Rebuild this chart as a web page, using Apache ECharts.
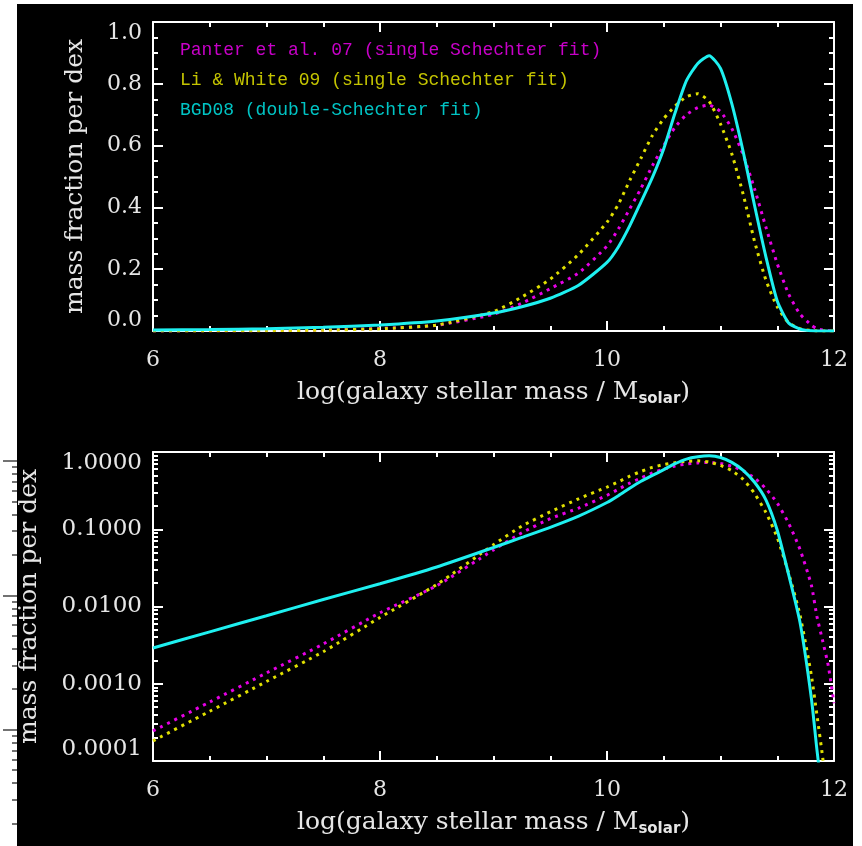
<!DOCTYPE html>
<html>
<head>
<meta charset="utf-8">
<script src="https://cdn.jsdelivr.net/npm/echarts@6/dist/echarts.min.js"></script>
<style>
html,body{margin:0;padding:0;background:#fff;}
#wrap{position:relative;width:862px;height:846px;background:#fff;overflow:hidden;}
#bg{position:absolute;left:17px;top:4px;width:836px;height:842px;background:#000;}
#chart{position:absolute;left:0;top:0;width:862px;height:846px;}
</style>
</head>
<body>
<div id="wrap"><div id="bg"></div><div id="chart"></div></div>
<script>
// ---- data ----
const xs = [6.0, 6.5, 7.0, 7.5, 8.0, 8.5, 9.0, 9.25, 9.5, 9.75, 10.0, 10.1, 10.2, 10.3, 10.4, 10.5, 10.6, 10.7, 10.8, 10.9, 11.0, 11.1, 11.2, 11.3, 11.4, 11.5, 11.6, 11.7, 11.8, 11.85, 11.9, 11.95, 12.0];
const panter = [0.000245, 0.00058, 0.00138, 0.00327, 0.0083, 0.0186, 0.054, 0.090, 0.137, 0.188, 0.275, 0.33, 0.395, 0.462, 0.535, 0.60, 0.66, 0.70, 0.723, 0.731, 0.71, 0.655, 0.57, 0.46, 0.336, 0.218, 0.12, 0.055, 0.019, 0.0074, 0.0036, 0.0017, 0.00056];
const liWhite = [0.000182, 0.00044, 0.00107, 0.0026, 0.0072, 0.0193, 0.063, 0.110, 0.168, 0.248, 0.352, 0.41, 0.487, 0.56, 0.633, 0.687, 0.728, 0.758, 0.768, 0.743, 0.67, 0.573, 0.442, 0.29, 0.165, 0.078, 0.027, 0.0078, 0.0013, 0.00039, 0.000112, 0.000025, 0.000005];
const bgd08 = [0.0029, 0.0047, 0.0076, 0.0123, 0.0197, 0.0325, 0.058, 0.0785, 0.106, 0.148, 0.222, 0.272, 0.34, 0.418, 0.497, 0.59, 0.706, 0.81, 0.866, 0.891, 0.85, 0.735, 0.58, 0.406, 0.24, 0.097, 0.026, 0.0063, 0.00066, 0.000138, 0.000032, 0.000006, 0.000001];
const seriesNames = ['Panter et al. 07 (single Schechter fit)', 'Li & White 09 (single Schechter fit)', 'BGD08 (double-Schechter fit)'];
const logMajor = [0.0001, 0.001, 0.01, 0.1, 1];
const strayMajor = [0.001, 0.01, 0.1, 1];

function minorOf(decades) {
  const out = [];
  decades.forEach(d => { for (let k = 2; k <= 9; k++) out.push(+(k * d).toPrecision(3)); });
  return out;
}
const logMinor = minorOf(logMajor.slice(0, -1));
const strayMinor = minorOf([0.0001].concat(strayMajor.slice(0, -1)));
const pairs = arr => xs.map((x, i) => [x, arr[i]]);

const SERIF = '"DejaVu Serif", "Liberation Serif", serif';
const labelColor = '#e6e6e6';
const white = '#ffffff';
const lineW = 2;

const xTitle = '{a|log(galaxy stellar mass / M}{b|solar}{a|)}';
const xTitleRich = {
  a: { fontFamily: SERIF, fontSize: 25, color: labelColor, lineHeight: 30 },
  b: { fontFamily: '"DejaVu Sans", sans-serif', fontWeight: 'bold', fontSize: 15, color: labelColor, lineHeight: 15, verticalAlign: 'bottom' }
};

function xAx(grid, pos, labels) {
  return {
    type: 'value', gridIndex: grid, position: pos, min: 6, max: 12, interval: 2,
    axisLine: { show: true, onZero: false, lineStyle: { color: white, width: lineW } },
    axisTick: { show: true, inside: true, length: 10, lineStyle: { color: white, width: lineW } },
    minorTick: { show: true, splitNumber: 4, length: 5, lineStyle: { color: white, width: lineW } },
    splitLine: { show: false },
    axisLabel: { show: labels, margin: 18, color: labelColor, fontFamily: SERIF, fontSize: 22 },
    name: labels ? xTitle : '', nameLocation: 'middle', nameGap: 46,
    nameTextStyle: { rich: xTitleRich },
    nameMoveOverlap: false
  };
}

function yLin(pos, labels) {
  return {
    type: 'value', gridIndex: 0, position: pos, min: 0, max: 1, interval: 0.2,
    axisLine: { show: true, onZero: false, lineStyle: { color: white, width: lineW } },
    axisTick: { show: true, inside: true, length: 10, lineStyle: { color: white, width: lineW } },
    minorTick: { show: true, splitNumber: 4, length: 5, lineStyle: { color: white, width: lineW } },
    splitLine: { show: false },
    axisLabel: { show: labels, margin: 11, color: labelColor, fontFamily: SERIF, fontSize: 22,
      formatter: v => v.toFixed(1), verticalAlignMaxLabel: 'top', verticalAlignMinLabel: 'bottom' },
    name: labels ? 'mass fraction per dex' : '', nameLocation: 'middle', nameGap: 65,
    nameTextStyle: { fontFamily: SERIF, fontSize: 25, color: labelColor },
    nameMoveOverlap: false
  };
}

function yLog(pos, major, labels) {
  return {
    type: 'log', logBase: 10, gridIndex: 1, position: pos, min: 0.0001, max: 1,
    axisLine: { show: major, onZero: false, lineStyle: { color: white, width: lineW } },
    axisTick: { show: true, inside: true, length: major ? 10 : 5, customValues: major ? logMajor : logMinor,
      lineStyle: { color: white, width: lineW } },
    minorTick: { show: false },
    splitLine: { show: false },
    axisLabel: { show: labels, margin: 11, color: labelColor, fontFamily: SERIF, fontSize: 23,
      customValues: logMajor,
      formatter: v => v.toFixed(4), verticalAlignMaxLabel: 'top', verticalAlignMinLabel: 'bottom' },
    name: labels ? 'mass fraction per dex' : '', nameLocation: 'middle', nameGap: 111,
    nameTextStyle: { fontFamily: SERIF, fontSize: 25, color: labelColor },
    nameMoveOverlap: false
  };
}

function yStray(major) {
  return {
    type: 'log', logBase: 10, gridIndex: 2, position: 'left', min: 0.001, max: 1,
    axisLine: { show: false },
    axisTick: { show: true, inside: false, length: major ? 14 : 5, customValues: major ? strayMajor : strayMinor,
      lineStyle: { color: '#444', width: 1.5 } },
    minorTick: { show: false }, splitLine: { show: false }, axisLabel: { show: false }
  };
}

const styles = [
  { color: '#e600e6', type: [3, 5], width: 3 },
  { color: '#e0e000', type: [3, 5], width: 3 },
  { color: '#1ef0f0', type: 'solid', width: 3 }
];
const dataSets = [panter, liWhite, bgd08];

const series = [];
[[0, 0], [2, 2]].forEach(([xi, yi]) => {
  dataSets.forEach((d, k) => {
    series.push({
      type: 'line', name: seriesNames[k], xAxisIndex: xi, yAxisIndex: yi,
      data: pairs(d), showSymbol: false, symbol: 'none', smooth: 0.2, clip: true,
      lineStyle: { color: styles[k].color, width: styles[k].width, type: styles[k].type, cap: 'butt' },
      itemStyle: { color: styles[k].color },
      z: k === 2 ? 4 : 3
    });
  });
});

const chart = echarts.init(document.getElementById('chart'), null, { renderer: 'canvas' });
chart.setOption({
  backgroundColor: 'transparent',
  animation: false,
  grid: [
    { left: 153, top: 22, width: 681, height: 309, outerBoundsMode: 'none', containLabel: false },
    { left: 153, top: 452, width: 681, height: 309, outerBoundsMode: 'none', containLabel: false },
    { left: 17, top: 461, width: 1, height: 403, outerBoundsMode: 'none', containLabel: false }
  ],
  legend: {
    orient: 'vertical', left: 170, top: 36, itemWidth: 0, itemHeight: 0, itemGap: 12,
    icon: 'rect', selectedMode: false,
    textStyle: { fontFamily: '"Liberation Mono", "DejaVu Sans Mono", monospace', fontSize: 18 },
    data: [
      { name: seriesNames[0], textStyle: { color: '#c800c8' } },
      { name: seriesNames[1], textStyle: { color: '#c4c400' } },
      { name: seriesNames[2], textStyle: { color: '#00c4c4' } }
    ]
  },
  xAxis: [
    xAx(0, 'bottom', true), xAx(0, 'top', false),
    xAx(1, 'bottom', true), xAx(1, 'top', false),
    { type: 'value', gridIndex: 2, show: false, min: 0, max: 1 }
  ],
  yAxis: [
    yLin('left', true), yLin('right', false),
    yLog('left', true, true), yLog('left', false, false),
    yLog('right', true, false), yLog('right', false, false),
    yStray(true), yStray(false)
  ],
  series: series
});
</script>
</body>
</html>
